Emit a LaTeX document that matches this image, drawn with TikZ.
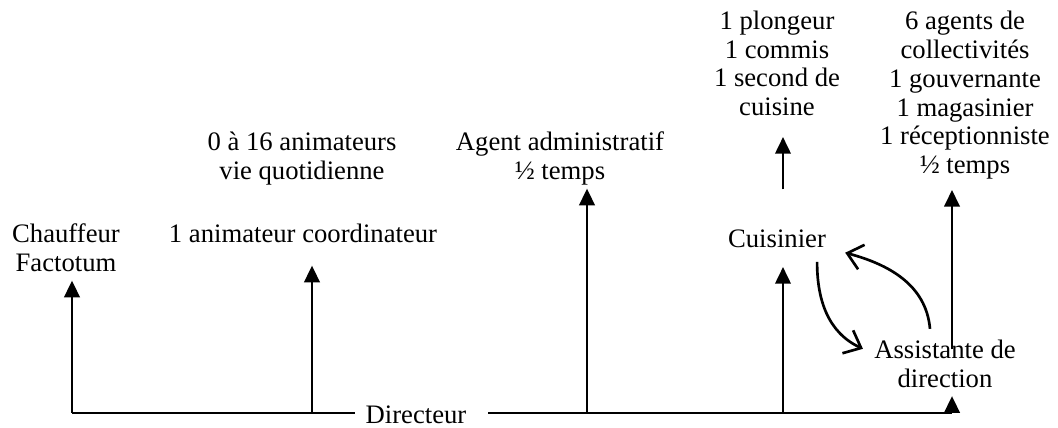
\documentclass[tikz,border=0pt]{standalone}
\usepackage{fontspec}
\setmainfont{Liberation Serif}
\usetikzlibrary{arrows.meta}
\usetikzlibrary{calc}

\begin{document}
\begin{tikzpicture}[x=0.75pt,y=0.75pt,
	txt/.style={align=center,inner sep=0pt,font=\fontsize{20}{21.6}\selectfont},
	lbl/.style={txt,execute at begin node=\strut,execute at end node=\strut},
	up/.style={-{Triangle[length=12.5pt,width=11.5pt]},line width=2pt},
	barb/.style={-{Straight Barb[length=11pt,width=19pt]},line width=2pt}]
	\useasboundingbox (0,0) rectangle (1058,428);

	\coordinate(fchauffeur) at (72,15);
	\coordinate(fanim) at (312,15);
	\coordinate(fagent) at (587,15);
	\coordinate(fcuis) at (783,15);
	\coordinate(fassist) at (952,15);

	\node(directeur) at (416,4)[txt,anchor=base,inner xsep=8pt]{Directeur};
	\node(chauffeur) at (66,147.4)[lbl,anchor=south]{Chauffeur\\Factotum};
	\node(anim) at (303,176.4)[lbl,anchor=south]{1 animateur coordinateur};
	\node(animvie) at (302,239.4)[lbl,anchor=south]{0 à 16 animateurs\\vie quotidienne};
	\node(agent) at (560,239.4)[lbl,anchor=south]{Agent administratif\\½ temps};
	\node(agents) at (965,245.4)[lbl,anchor=south]{6 agents de\\collectivités\\1 gouvernante\\1 magasinier\\1 réceptionniste\\½ temps};
	\node(plongeur) at (777,303.4)[lbl,anchor=south]{1 plongeur\\1 commis\\1 second de\\cuisine};
	\node(cuisinier) at (777,171.4)[lbl,anchor=south]{Cuisinier};
	\node(assistant) at (945,31.9)[lbl,anchor=south]{Assistante de\\direction};

	\draw[line width=2pt] (fchauffeur) -- (fchauffeur -| directeur.west);
	\draw[line width=2pt,shorten <=8.3pt] (fassist -| directeur.east) -- (fassist);

	\draw[up] (fchauffeur) -- (fchauffeur |- chauffeur.south);
	\draw[up,shorten >=10.5pt] (fanim) -- (fanim |- anim.south);
	\draw[up] (fagent) -- (fagent |- agent.south);
	\draw[up,shorten >=7.8pt] (fcuis) -- (fcuis |- cuisinier.south);
	\draw[up] (fassist) -- (fassist |- assistant.south);
	\draw[up,shorten <=-7.3pt,shorten >=5.5pt] (fassist |- assistant.north) -- (fassist |- agents.south);
	\draw[up,shorten <=28.4pt,shorten >=9.3pt] (fcuis |- cuisinier.north) -- (fcuis |- plongeur.south);

	\draw[barb] ([xshift=-6.8pt,yshift=-4pt]cuisinier.south east) to[out=-90,in=155] ([xshift=-8.3pt]assistant.165);
	\draw[barb] ([xshift=-11.25pt,yshift=8.1pt]assistant.north) to[out=95,in=-15] ([xshift=14.3pt,yshift=-8.1pt]cuisinier.east);
\end{tikzpicture}
\end{document}
